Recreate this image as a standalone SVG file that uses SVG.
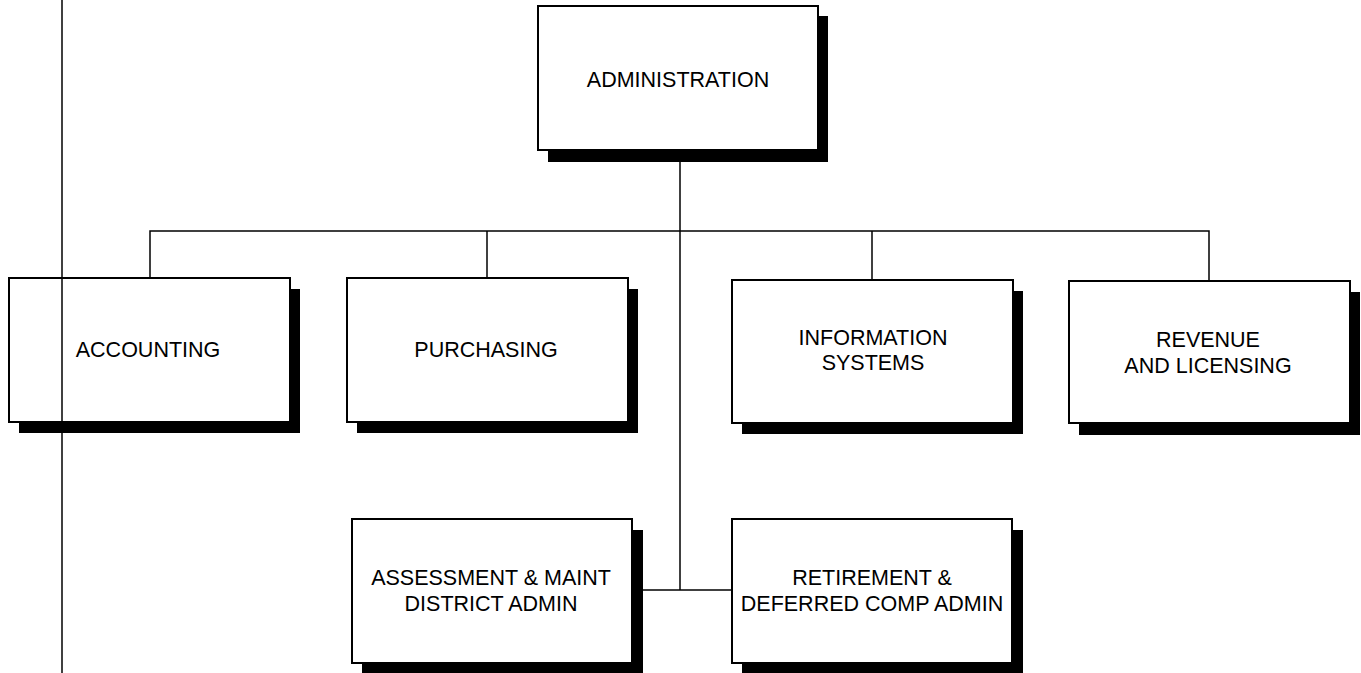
<svg xmlns="http://www.w3.org/2000/svg" width="1361" height="673" viewBox="0 0 1361 673">
<style>
.shadow{fill:#000}
.box{fill:#fff;stroke:#000;stroke-width:2}
.lbl{font-family:"Liberation Sans",Arial,sans-serif;font-size:21.5px;fill:#000;text-anchor:middle;dominant-baseline:central}
.conn{stroke:#000;stroke-width:1.5;fill:none}
</style>
<rect width="1361" height="673" fill="#fff"/>
<g id="connectors">
<polyline class="conn" points="150,278 150,231 1209,231 1209,281"/>
<line class="conn" x1="487" y1="231" x2="487" y2="278"/>
<line class="conn" x1="872" y1="231" x2="872" y2="280"/>
<line class="conn" x1="680" y1="150" x2="680" y2="590"/>
<line class="conn" x1="632" y1="590" x2="732" y2="590"/>
</g>
<g id="administration">
<rect class="shadow" x="548" y="16" width="280" height="146"/>
<rect class="box" x="538" y="6" width="280" height="144"/>
<text class="lbl" x="678" y="80">ADMINISTRATION</text>
</g>
<g id="accounting">
<rect class="shadow" x="19" y="289" width="281" height="144"/>
<rect class="box" x="9" y="278" width="281" height="144"/>
<text class="lbl" x="148" y="350">ACCOUNTING</text>
</g>
<g id="purchasing">
<rect class="shadow" x="357" y="289" width="281" height="144"/>
<rect class="box" x="347" y="278" width="281" height="144"/>
<text class="lbl" x="486" y="350">PURCHASING</text>
</g>
<g id="information-systems">
<rect class="shadow" x="742" y="291" width="281" height="143"/>
<rect class="box" x="732" y="280" width="281" height="143"/>
<text class="lbl" x="873" y="338">INFORMATION</text>
<text class="lbl" x="873" y="363">SYSTEMS</text>
</g>
<g id="revenue-licensing">
<rect class="shadow" x="1079" y="292" width="281" height="143"/>
<rect class="box" x="1069" y="281" width="281" height="142"/>
<text class="lbl" x="1208" y="340">REVENUE</text>
<text class="lbl" x="1208" y="366">AND LICENSING</text>
</g>
<g id="assessment-maint">
<rect class="shadow" x="362" y="530" width="281" height="145"/>
<rect class="box" x="352" y="519" width="280" height="144"/>
<text class="lbl" x="491" y="578">ASSESSMENT &amp; MAINT</text>
<text class="lbl" x="491" y="604">DISTRICT ADMIN</text>
</g>
<g id="retirement">
<rect class="shadow" x="742" y="530" width="281" height="145"/>
<rect class="box" x="732" y="519" width="280" height="144"/>
<text class="lbl" x="872" y="578">RETIREMENT &amp;</text>
<text class="lbl" x="872" y="604">DEFERRED COMP ADMIN</text>
</g>
<g id="margin-line">
<line class="conn" x1="62" y1="0" x2="62" y2="673"/>
</g>
</svg>
